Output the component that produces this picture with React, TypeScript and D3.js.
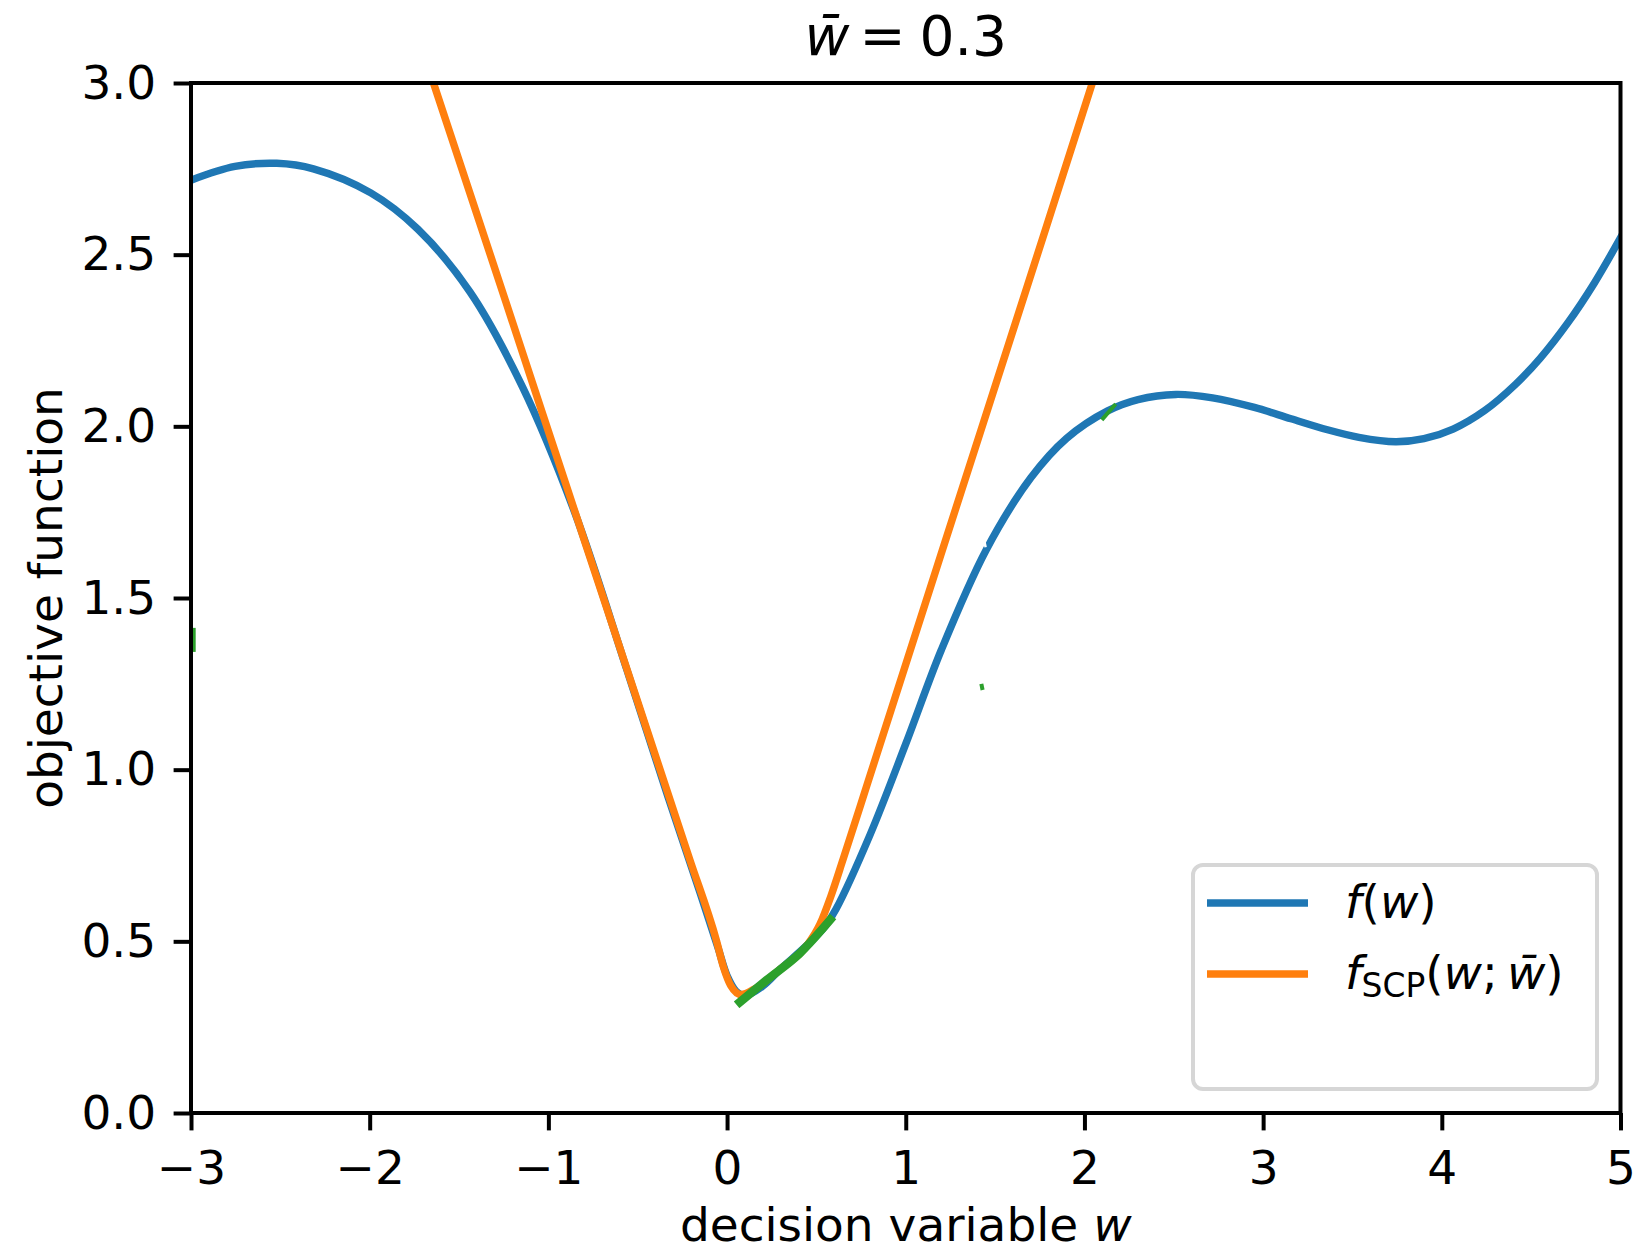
import React, { useRef, useEffect } from "react";
import * as d3 from "d3";

// values
const fPoints: [number, number][] = [
  [-3.0, 2.717], [-2.754, 2.757], [-2.52, 2.766], [-2.315, 2.75], [-1.994, 2.68],
  [-1.73, 2.574], [-1.438, 2.391], [-1.145, 2.115], [-0.853, 1.75], [-0.56, 1.29],
  [-0.33, 0.92], [-0.15, 0.64], [-0.05, 0.48], [0.0, 0.4], [0.05, 0.355],
  [0.1, 0.342], [0.2, 0.37], [0.3, 0.42], [0.45, 0.49], [0.55, 0.545],
  [0.61, 0.594], [0.8, 0.81], [1.0, 1.075], [1.2, 1.35], [1.45, 1.64],
  [1.7, 1.85], [1.9, 1.965], [2.13, 2.045], [2.3, 2.078], [2.512, 2.093],
  [2.717, 2.083], [2.951, 2.055], [3.156, 2.022], [3.36, 1.99], [3.536, 1.968],
  [3.741, 1.955], [3.9, 1.964], [4.063, 1.992], [4.24, 2.046], [4.414, 2.123],
  [4.55, 2.198], [4.706, 2.302], [4.853, 2.417], [5.0, 2.549],
];

const fScpPoints: [number, number][] = [
  [-1.76, 3.18], [-1.643, 3.0], [-1.03, 2.033], [-0.56, 1.292], [-0.21, 0.74],
  [-0.06, 0.503], [-0.02, 0.425], [0.02, 0.372], [0.08, 0.345], [0.15, 0.36],
  [0.3, 0.42], [0.45, 0.49], [0.52, 0.55], [0.58, 0.63], [0.65, 0.74],
  [0.786, 0.96], [1.196, 1.625], [1.78, 2.57], [2.044, 3.0], [2.16, 3.19],
];

// green pieces (mostly hidden in the original)
const greenMain: [number, number][] = [
  [0.053, 0.315], [0.221, 0.387], [0.407, 0.465], [0.593, 0.572],
];
const greenBits: [number, number][][] = [
  [[-2.985, 1.413], [-2.985, 1.343]],
  [[1.423, 1.25], [1.43, 1.232]],
  [[2.097, 2.019], [2.175, 2.065]],
];
const whiteBits: [number, number][][] = [[[1.44, 1.665], [1.447, 1.648]]];

const xTicks = [-3, -2, -1, 0, 1, 2, 3, 4, 5];
const yTicks = [0, 0.5, 1.0, 1.5, 2.0, 2.5, 3.0];

const App = () => {
  const ref = useRef<SVGSVGElement>(null);

  useEffect(() => {
    const W = 1639;
    const H = 1251;
    const left = 191, right = 1620.5, top = 83, bottom = 1113;
    const fs = 47;
    const font = "'DejaVu Sans', sans-serif";
    const blue = "#1f77b4", orange = "#ff7f0e", green = "#2ca02c";

    const svg = d3.select(ref.current).attr("width", W).attr("height", H);
    svg.selectAll("*").remove();

    svg.append("rect").attr("width", W).attr("height", H).attr("fill", "#fff");

    const x = d3.scaleLinear().domain([-3, 5]).range([left, right]);
    const y = d3.scaleLinear().domain([0, 3]).range([bottom, top]);

    svg.append("clipPath").attr("id", "plotclip")
      .append("rect")
      .attr("x", left).attr("y", top)
      .attr("width", right - left).attr("height", bottom - top);

    const plot = svg.append("g").attr("clip-path", "url(#plotclip)");

    const smooth = d3.line<[number, number]>()
      .x(d => x(d[0]))
      .y(d => y(d[1]))
      .curve(d3.curveCatmullRom.alpha(0.5));
    const line = d3.line<[number, number]>()
      .x(d => x(d[0]))
      .y(d => y(d[1]))
      .curve(d3.curveMonotoneX);

    plot.append("path").datum(fPoints)
      .attr("fill", "none").attr("stroke", blue).attr("stroke-width", 7.45)
      .attr("stroke-linecap", "square")
      .attr("d", smooth);

    plot.append("path").datum(fScpPoints)
      .attr("fill", "none").attr("stroke", orange).attr("stroke-width", 7.45)
      .attr("stroke-linecap", "square")
      .attr("d", line);

    plot.append("path").datum(greenMain)
      .attr("fill", "none").attr("stroke", green).attr("stroke-width", 8.5)
      .attr("d", line);

    const straight = d3.line<[number, number]>().x(d => x(d[0])).y(d => y(d[1]));
    greenBits.forEach(b => {
      plot.append("path").datum(b)
        .attr("fill", "none").attr("stroke", green).attr("stroke-width", 4)
        .attr("d", straight);
    });
    whiteBits.forEach(b => {
      plot.append("path").datum(b)
        .attr("fill", "none").attr("stroke", "#fff").attr("stroke-width", 2.5)
        .attr("d", straight);
    });

    // axes
    const xAxis = svg.append("g")
      .attr("transform", `translate(0,${bottom})`)
      .call(d3.axisBottom(x).tickValues(xTicks).tickSize(17.4).tickPadding(17.4)
        .tickFormat(d => d3.format("d")(d as number).replace("-", "\u2212")));
    const yAxis = svg.append("g")
      .attr("transform", `translate(${left},0)`)
      .call(d3.axisLeft(y).tickValues(yTicks).tickSize(17.4).tickPadding(17.4)
        .tickFormat(d => d3.format(".1f")(d as number)));

    [xAxis, yAxis].forEach(a => {
      a.select(".domain").remove();
      a.selectAll(".tick line").attr("stroke", "#000").attr("stroke-width", 4);
      a.selectAll(".tick text")
        .attr("fill", "#000")
        .style("font-family", font)
        .style("font-size", `${fs}px`);
    });
    xAxis.selectAll(".tick text").attr("dy", "0.76em");

    // frame
    svg.append("rect")
      .attr("x", left).attr("y", top)
      .attr("width", right - left).attr("height", bottom - top)
      .attr("fill", "none").attr("stroke", "#000").attr("stroke-width", 4)
      .attr("stroke-linejoin", "miter");

    // title
    const title = svg.append("text")
      .attr("x", (left + right) / 2).attr("y", 55)
      .attr("text-anchor", "middle")
      .style("font-family", font).style("font-size", "55px");
    title.append("tspan").style("font-style", "italic").text("w\u0304");
    title.append("tspan").attr("dx", 10).text("=");
    title.append("tspan").attr("dx", 14).text("0.3");

    // axis labels
    const xl = svg.append("text")
      .attr("x", (left + right) / 2).attr("y", 1241)
      .attr("text-anchor", "middle")
      .style("font-family", font).style("font-size", `${fs}px`);
    xl.append("tspan").text("decision variable ");
    xl.append("tspan").style("font-style", "italic").text("w");

    svg.append("text")
      .attr("transform", `translate(62,${(top + bottom) / 2}) rotate(-90)`)
      .attr("text-anchor", "middle")
      .style("font-family", font).style("font-size", `${fs}px`)
      .text("objective function");

    // legend
    const lg = svg.append("g");
    lg.append("rect")
      .attr("x", 1193).attr("y", 865).attr("width", 404).attr("height", 224)
      .attr("rx", 10).attr("fill", "#fff").attr("fill-opacity", 0.8)
      .attr("stroke", "#d6d6d6").attr("stroke-width", 4);

    const entries = [
      { color: blue, yy: 903 },
      { color: orange, yy: 974 },
    ];
    entries.forEach(e => {
      lg.append("line")
        .attr("x1", 1207).attr("x2", 1308).attr("y1", e.yy).attr("y2", e.yy)
        .attr("stroke", e.color).attr("stroke-width", 7.45);
    });

    const t1 = lg.append("text").attr("x", 1345).attr("y", 918)
      .style("font-family", font).style("font-size", `${fs}px`);
    t1.append("tspan").style("font-style", "italic").text("f");
    t1.append("tspan").text("(");
    t1.append("tspan").style("font-style", "italic").text("w");
    t1.append("tspan").text(")");

    const t2 = lg.append("text").attr("x", 1345).attr("y", 989)
      .style("font-family", font).style("font-size", `${fs}px`);
    t2.append("tspan").style("font-style", "italic").text("f");
    t2.append("tspan").attr("dy", 8).style("font-size", `${fs * 0.7}px`).text("SCP");
    t2.append("tspan").attr("dy", -8).text("(");
    t2.append("tspan").style("font-style", "italic").text("w");
    t2.append("tspan").text(";");
    t2.append("tspan").attr("dx", 9).style("font-style", "italic").text("w\u0304");
    t2.append("tspan").text(")");
  }, []);

  return (
    <div style={{ position: "absolute", left: 0, top: 0 }}>
      <svg ref={ref} style={{ display: "block" }}></svg>
    </div>
  );
};

export default App;
